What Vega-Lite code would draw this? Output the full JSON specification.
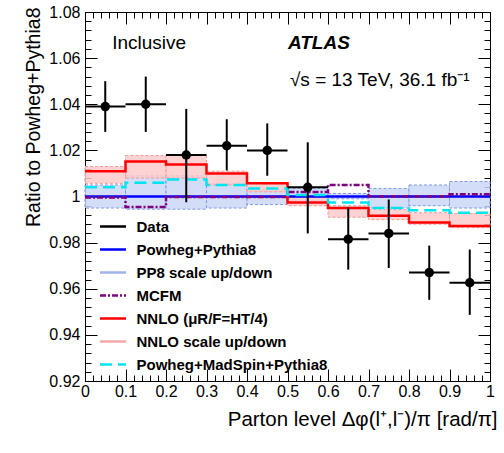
{
  "$schema": "https://vega.github.io/schema/vega-lite/v6.json",
  "width": 405,
  "height": 369,
  "autosize": "none",
  "padding": {"left": 85, "top": 12, "right": 14, "bottom": 72},
  "background": "white",
  "config": {"view": {"stroke": null}, "font": "Liberation Sans", "axis": {"grid": false, "tickColor": "black", "domainColor": "black", "tickWidth": 1, "domainWidth": 1}},
  "resolve": {"axis": {"x": "independent", "y": "independent"}},
  "datasets": {
    "pts": [
      {"x": 0.05, "x0": 0.0, "x1": 0.1, "y": 1.039, "ylo": 1.028, "yhi": 1.05},
      {"x": 0.15, "x0": 0.1, "x1": 0.2, "y": 1.04, "ylo": 1.028, "yhi": 1.052},
      {"x": 0.25, "x0": 0.2, "x1": 0.3, "y": 1.018, "ylo": 0.9975, "yhi": 1.038},
      {"x": 0.35, "x0": 0.3, "x1": 0.4, "y": 1.022, "ylo": 1.0113, "yhi": 1.0335},
      {"x": 0.45, "x0": 0.4, "x1": 0.5, "y": 1.02, "ylo": 1.009, "yhi": 1.0317},
      {"x": 0.55, "x0": 0.5, "x1": 0.6, "y": 1.004, "ylo": 0.984, "yhi": 1.0235},
      {"x": 0.65, "x0": 0.6, "x1": 0.7, "y": 0.9815, "ylo": 0.9683, "yhi": 0.9952},
      {"x": 0.75, "x0": 0.7, "x1": 0.8, "y": 0.984, "ylo": 0.969, "yhi": 0.9987},
      {"x": 0.85, "x0": 0.8, "x1": 0.9, "y": 0.967, "ylo": 0.9552, "yhi": 0.9787},
      {"x": 0.95, "x0": 0.9, "x1": 1.0, "y": 0.9626, "ylo": 0.9487, "yhi": 0.977}
    ],
    "bands": [
      {"series": "PP8 scale up/down", "x0": 0.0, "x1": 0.1, "lo": 0.995, "hi": 1.005},
      {"series": "PP8 scale up/down", "x0": 0.1, "x1": 0.2, "lo": 0.9945, "hi": 1.009},
      {"series": "PP8 scale up/down", "x0": 0.2, "x1": 0.3, "lo": 0.9945, "hi": 1.009},
      {"series": "PP8 scale up/down", "x0": 0.3, "x1": 0.4, "lo": 0.995, "hi": 1.0055},
      {"series": "PP8 scale up/down", "x0": 0.4, "x1": 0.5, "lo": 0.9965, "hi": 1.003},
      {"series": "PP8 scale up/down", "x0": 0.5, "x1": 0.6, "lo": 0.998, "hi": 1.0035},
      {"series": "PP8 scale up/down", "x0": 0.6, "x1": 0.7, "lo": 0.999, "hi": 1.0013},
      {"series": "PP8 scale up/down", "x0": 0.7, "x1": 0.8, "lo": 0.995, "hi": 1.0035},
      {"series": "PP8 scale up/down", "x0": 0.8, "x1": 0.9, "lo": 0.996, "hi": 1.005},
      {"series": "PP8 scale up/down", "x0": 0.9, "x1": 1.0, "lo": 0.995, "hi": 1.0065},
      {"series": "NNLO scale up/down", "x0": 0.0, "x1": 0.1, "lo": 1.0057, "hi": 1.013},
      {"series": "NNLO scale up/down", "x0": 0.1, "x1": 0.2, "lo": 1.008, "hi": 1.0178},
      {"series": "NNLO scale up/down", "x0": 0.2, "x1": 0.3, "lo": 1.008, "hi": 1.0178},
      {"series": "NNLO scale up/down", "x0": 0.3, "x1": 0.4, "lo": 1.005, "hi": 1.011},
      {"series": "NNLO scale up/down", "x0": 0.4, "x1": 0.5, "lo": 1.002, "hi": 1.006},
      {"series": "NNLO scale up/down", "x0": 0.5, "x1": 0.6, "lo": 0.996, "hi": 0.9996},
      {"series": "NNLO scale up/down", "x0": 0.6, "x1": 0.7, "lo": 0.991, "hi": 0.996},
      {"series": "NNLO scale up/down", "x0": 0.7, "x1": 0.8, "lo": 0.99, "hi": 0.9943},
      {"series": "NNLO scale up/down", "x0": 0.8, "x1": 0.9, "lo": 0.988, "hi": 0.993},
      {"series": "NNLO scale up/down", "x0": 0.9, "x1": 1.0, "lo": 0.9865, "hi": 0.9926}
    ],
    "lines": [
      {"series": "Powheg+Pythia8", "x0": 0.0, "x1": 0.1, "y": 1.0},
      {"series": "Powheg+Pythia8", "x0": 0.1, "x1": 0.2, "y": 1.0},
      {"series": "Powheg+Pythia8", "x0": 0.2, "x1": 0.3, "y": 1.0},
      {"series": "Powheg+Pythia8", "x0": 0.3, "x1": 0.4, "y": 1.0},
      {"series": "Powheg+Pythia8", "x0": 0.4, "x1": 0.5, "y": 1.0},
      {"series": "Powheg+Pythia8", "x0": 0.5, "x1": 0.6, "y": 1.0},
      {"series": "Powheg+Pythia8", "x0": 0.6, "x1": 0.7, "y": 1.0},
      {"series": "Powheg+Pythia8", "x0": 0.7, "x1": 0.8, "y": 1.0},
      {"series": "Powheg+Pythia8", "x0": 0.8, "x1": 0.9, "y": 1.0},
      {"series": "Powheg+Pythia8", "x0": 0.9, "x1": 1.0, "y": 1.0},
      {"series": "MCFM", "x0": 0.0, "x1": 0.1, "y": 0.9996},
      {"series": "MCFM", "x0": 0.1, "x1": 0.2, "y": 0.9955},
      {"series": "MCFM", "x0": 0.2, "x1": 0.3, "y": 0.9998},
      {"series": "MCFM", "x0": 0.3, "x1": 0.4, "y": 0.9998},
      {"series": "MCFM", "x0": 0.4, "x1": 0.5, "y": 0.9998},
      {"series": "MCFM", "x0": 0.5, "x1": 0.6, "y": 1.002},
      {"series": "MCFM", "x0": 0.6, "x1": 0.7, "y": 1.005},
      {"series": "MCFM", "x0": 0.7, "x1": 0.8, "y": 1.0},
      {"series": "MCFM", "x0": 0.8, "x1": 0.9, "y": 1.0},
      {"series": "MCFM", "x0": 0.9, "x1": 1.0, "y": 1.001},
      {"series": "NNLO (μR/F=HT/4)", "x0": 0.0, "x1": 0.1, "y": 1.011},
      {"series": "NNLO (μR/F=HT/4)", "x0": 0.1, "x1": 0.2, "y": 1.0152},
      {"series": "NNLO (μR/F=HT/4)", "x0": 0.2, "x1": 0.3, "y": 1.0139},
      {"series": "NNLO (μR/F=HT/4)", "x0": 0.3, "x1": 0.4, "y": 1.01},
      {"series": "NNLO (μR/F=HT/4)", "x0": 0.4, "x1": 0.5, "y": 1.0057},
      {"series": "NNLO (μR/F=HT/4)", "x0": 0.5, "x1": 0.6, "y": 0.9974},
      {"series": "NNLO (μR/F=HT/4)", "x0": 0.6, "x1": 0.7, "y": 0.995},
      {"series": "NNLO (μR/F=HT/4)", "x0": 0.7, "x1": 0.8, "y": 0.9917},
      {"series": "NNLO (μR/F=HT/4)", "x0": 0.8, "x1": 0.9, "y": 0.9887},
      {"series": "NNLO (μR/F=HT/4)", "x0": 0.9, "x1": 1.0, "y": 0.9872},
      {"series": "Powheg+MadSpin+Pythia8", "x0": 0.0, "x1": 0.1, "y": 1.004},
      {"series": "Powheg+MadSpin+Pythia8", "x0": 0.1, "x1": 0.2, "y": 1.006},
      {"series": "Powheg+MadSpin+Pythia8", "x0": 0.2, "x1": 0.3, "y": 1.0074},
      {"series": "Powheg+MadSpin+Pythia8", "x0": 0.3, "x1": 0.4, "y": 1.005},
      {"series": "Powheg+MadSpin+Pythia8", "x0": 0.4, "x1": 0.5, "y": 1.0035},
      {"series": "Powheg+MadSpin+Pythia8", "x0": 0.5, "x1": 0.6, "y": 1.0006},
      {"series": "Powheg+MadSpin+Pythia8", "x0": 0.6, "x1": 0.7, "y": 0.9974},
      {"series": "Powheg+MadSpin+Pythia8", "x0": 0.7, "x1": 0.8, "y": 0.995},
      {"series": "Powheg+MadSpin+Pythia8", "x0": 0.8, "x1": 0.9, "y": 0.994},
      {"series": "Powheg+MadSpin+Pythia8", "x0": 0.9, "x1": 1.0, "y": 0.993}
    ]
  },
  "layer": [
    {
      "data": {"name": "bands"},
      "mark": {"type": "rect", "strokeWidth": 1, "strokeDash": [3, 2]},
      "encoding": {
        "x": {
          "field": "x0", "type": "quantitative",
          "scale": {"domain": [0, 1], "nice": false, "zero": false},
          "axis": {
            "orient": "bottom",
            "values": [0, 0.1, 0.2, 0.3, 0.4, 0.5, 0.6, 0.7, 0.8, 0.9, 1],
            "labelExpr": "datum.value == 0 ? '0' : datum.value == 1 ? '1' : format(datum.value, '.1f')",
            "tickSize": -12,
            "labelFont": "Liberation Sans", "labelFontSize": 16, "labelColor": "black",
            "labelPadding": 14, "labelFlush": false, "labelOverlap": false,
            "title": "Parton level Δφ(l⁺,l⁻)/π [rad/π]",
            "titleFont": "Liberation Sans", "titleFontSize": 20.5, "titleFontWeight": "normal", "titleColor": "black",
            "titleAnchor": "end", "titleAlign": "right", "titleBaseline": "alphabetic", "titleX": 412, "titleY": 44
          }
        },
        "x2": {"field": "x1"},
        "y": {
          "field": "lo", "type": "quantitative",
          "scale": {"domain": [0.92, 1.08], "nice": false, "zero": false},
          "axis": {
            "orient": "left",
            "values": [0.92, 0.94, 0.96, 0.98, 1, 1.02, 1.04, 1.06, 1.08],
            "labelExpr": "abs(datum.value - 1) < 0.0001 ? '1' : format(datum.value, '.2f')",
            "tickSize": -12,
            "labelFont": "Liberation Sans", "labelFontSize": 16, "labelColor": "black",
            "labelPadding": 17, "labelFlush": false, "labelOverlap": false,
            "title": "Ratio to Powheg+Pythia8",
            "titleFont": "Liberation Sans", "titleFontSize": 19.5, "titleFontWeight": "normal", "titleColor": "black",
            "titleAnchor": "end", "titleAngle": -90, "titleAlign": "right", "titleBaseline": "middle", "titleX": -52, "titleY": -5
          }
        },
        "y2": {"field": "hi"},
        "fill": {
          "field": "series", "type": "nominal", "legend": null,
          "scale": {"domain": ["PP8 scale up/down", "NNLO scale up/down"], "range": ["#ccd7f6", "#fbcaca"]}
        },
        "stroke": {
          "field": "series", "type": "nominal", "legend": null,
          "scale": {"domain": ["PP8 scale up/down", "NNLO scale up/down"], "range": ["#7f9be6", "#f19a9a"]}
        },
        "fillOpacity": {"value": 0.85}
      }
    },
    {
      "data": {"name": "lines"},
      "transform": [{"fold": ["x0", "x1"], "as": ["edge", "xpos"]}],
      "mark": {"type": "line", "strokeWidth": 2.5},
      "encoding": {
        "x": {
          "field": "xpos", "type": "quantitative",
          "axis": {"orient": "top", "values": [0, 0.1, 0.2, 0.3, 0.4, 0.5, 0.6, 0.7, 0.8, 0.9, 1], "labels": false, "title": null, "tickSize": -12}
        },
        "y": {
          "field": "y", "type": "quantitative",
          "axis": {"orient": "right", "values": [0.92, 0.94, 0.96, 0.98, 1, 1.02, 1.04, 1.06, 1.08], "labels": false, "title": null, "tickSize": -12}
        },
        "color": {
          "field": "series", "type": "nominal",
          "scale": {
            "domain": ["Data", "Powheg+Pythia8", "PP8 scale up/down", "MCFM", "NNLO (μR/F=HT/4)", "NNLO scale up/down", "Powheg+MadSpin+Pythia8"],
            "range": ["#000000", "#0000ff", "#9fb3ec", "#800080", "#ff0000", "#f5aaaa", "#00e5ee"]
          },
          "legend": {
            "title": null, "orient": "none", "legendX": 13.5, "legendY": 200,
            "symbolSize": 676, "symbolType": "stroke", "symbolStrokeWidth": 2.5,
            "labelFont": "Liberation Sans", "labelFontSize": 15, "labelFontWeight": "bold", "labelColor": "black",
            "labelOffset": 9, "rowPadding": 0, "labelLimit": 300
          }
        },
        "strokeDash": {
          "field": "series", "type": "nominal",
          "scale": {
            "domain": ["Data", "Powheg+Pythia8", "PP8 scale up/down", "MCFM", "NNLO (μR/F=HT/4)", "NNLO scale up/down", "Powheg+MadSpin+Pythia8"],
            "range": [[1, 0], [1, 0], [1, 0], [6, 2, 2, 2], [1, 0], [1, 0], [12, 6]]
          },
          "legend": {
            "title": null, "orient": "none", "legendX": 13.5, "legendY": 200,
            "symbolSize": 676, "symbolType": "stroke", "symbolStrokeWidth": 2.5,
            "labelFont": "Liberation Sans", "labelFontSize": 15, "labelFontWeight": "bold", "labelColor": "black",
            "labelOffset": 9, "rowPadding": 0, "labelLimit": 300
          }
        },
        "order": [{"field": "x0", "type": "quantitative"}, {"field": "edge", "type": "ordinal"}]
      }
    },
    {
      "data": {"name": "pts"},
      "mark": {"type": "rule", "color": "black", "strokeWidth": 2},
      "encoding": {
        "x": {
          "field": "x0", "type": "quantitative",
          "axis": {"orient": "bottom", "values": [0,0.02,0.04,0.06,0.08,0.1,0.12,0.14,0.16,0.18,0.2,0.22,0.24,0.26,0.28,0.3,0.32,0.34,0.36,0.38,0.4,0.42,0.44,0.46,0.48,0.5,0.52,0.54,0.56,0.58,0.6,0.62,0.64,0.66,0.68,0.7,0.72,0.74,0.76,0.78,0.8,0.82,0.84,0.86,0.88,0.9,0.92,0.94,0.96,0.98,1], "labels": false, "title": null, "tickSize": -6}
        },
        "x2": {"field": "x1"},
        "y": {
          "field": "y", "type": "quantitative",
          "axis": {"orient": "left", "values": [0.92,0.924,0.928,0.932,0.936,0.94,0.944,0.948,0.952,0.956,0.96,0.964,0.968,0.972,0.976,0.98,0.984,0.988,0.992,0.996,1,1.004,1.008,1.012,1.016,1.02,1.024,1.028,1.032,1.036,1.04,1.044,1.048,1.052,1.056,1.06,1.064,1.068,1.072,1.076,1.08], "labels": false, "title": null, "tickSize": -6}
        }
      }
    },
    {
      "data": {"name": "pts"},
      "mark": {"type": "rule", "color": "black", "strokeWidth": 2},
      "encoding": {
        "x": {
          "field": "x", "type": "quantitative",
          "axis": {"orient": "top", "values": [0,0.02,0.04,0.06,0.08,0.1,0.12,0.14,0.16,0.18,0.2,0.22,0.24,0.26,0.28,0.3,0.32,0.34,0.36,0.38,0.4,0.42,0.44,0.46,0.48,0.5,0.52,0.54,0.56,0.58,0.6,0.62,0.64,0.66,0.68,0.7,0.72,0.74,0.76,0.78,0.8,0.82,0.84,0.86,0.88,0.9,0.92,0.94,0.96,0.98,1], "labels": false, "title": null, "tickSize": -6}
        },
        "y": {
          "field": "ylo", "type": "quantitative",
          "axis": {"orient": "right", "values": [0.92,0.924,0.928,0.932,0.936,0.94,0.944,0.948,0.952,0.956,0.96,0.964,0.968,0.972,0.976,0.98,0.984,0.988,0.992,0.996,1,1.004,1.008,1.012,1.016,1.02,1.024,1.028,1.032,1.036,1.04,1.044,1.048,1.052,1.056,1.06,1.064,1.068,1.072,1.076,1.08], "labels": false, "title": null, "tickSize": -6}
        },
        "y2": {"field": "yhi"}
      }
    },
    {
      "data": {"name": "pts"},
      "mark": {"type": "point", "filled": true, "color": "black", "size": 90, "opacity": 1},
      "encoding": {
        "x": {"field": "x", "type": "quantitative", "axis": null},
        "y": {"field": "y", "type": "quantitative", "axis": null}
      }
    },
    {
      "data": {"values": [{}]},
      "mark": {"type": "text", "text": "Inclusive", "font": "Liberation Sans", "fontSize": 19, "align": "left", "baseline": "middle", "color": "black"},
      "encoding": {
        "x": {"datum": 0.067, "type": "quantitative", "axis": null},
        "y": {"datum": 1.0665, "type": "quantitative", "axis": null}
      }
    },
    {
      "data": {"values": [{}]},
      "mark": {"type": "text", "text": "ATLAS", "font": "Liberation Sans", "fontSize": 19, "fontWeight": "bold", "fontStyle": "italic", "align": "left", "baseline": "middle", "color": "black"},
      "encoding": {
        "x": {"datum": 0.501, "type": "quantitative", "axis": null},
        "y": {"datum": 1.0665, "type": "quantitative", "axis": null}
      }
    },
    {
      "data": {"values": [{}]},
      "mark": {"type": "text", "text": "√s = 13 TeV, 36.1 fb⁻¹", "font": "Liberation Sans", "fontSize": 19, "align": "left", "baseline": "middle", "color": "black"},
      "encoding": {
        "x": {"datum": 0.506, "type": "quantitative", "axis": null},
        "y": {"datum": 1.0504, "type": "quantitative", "axis": null}
      }
    }
  ]
}
